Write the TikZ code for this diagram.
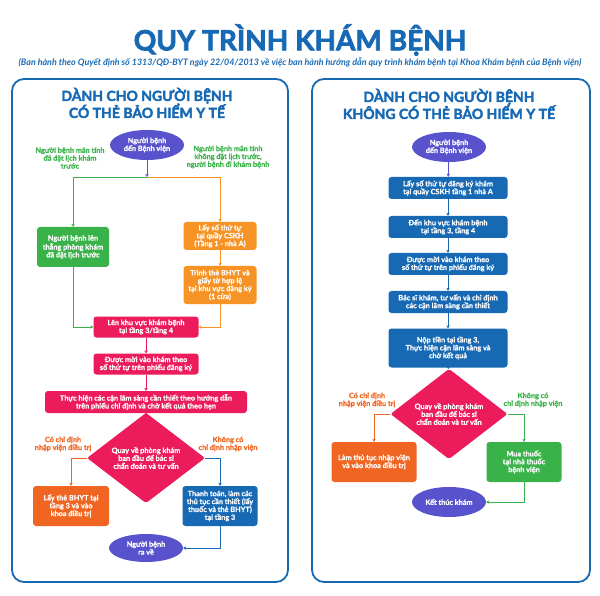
\documentclass[tikz,border=0pt]{standalone}
\usepackage{fontspec}
\setmainfont{Lato}[BoldFeatures={FakeBold=0.8}]
\newfontfamily\qheavy{Lato}[BoldFeatures={FakeBold=2.5}]
\usetikzlibrary{shapes.geometric,arrows.meta}
\definecolor{qblue}{RGB}{23,105,180}
\definecolor{qpurple}{RGB}{88,82,204}
\definecolor{qpink}{RGB}{236,27,91}
\definecolor{qgreen}{RGB}{58,178,74}
\definecolor{qorange}{RGB}{247,146,36}
\definecolor{qred}{RGB}{241,101,34}
\newcommand\qsmall{\fontsize{7.3}{7.9}\selectfont\bfseries}
\begin{document}
\begin{tikzpicture}[x=1pt, y=-1pt,
  box/.style = {rectangle, rounded corners=3pt, text=white, font=\qsmall, align=center, inner sep=1pt},
  oval/.style = {ellipse, fill=qpurple, text=white, font=\qsmall, align=center, inner sep=0pt, minimum width=74pt, minimum height=30pt},
  rhomb/.style = {diamond, fill=qpink, text=white, font=\qsmall, align=center, inner sep=0pt, minimum width=118pt, minimum height=61pt, rounded corners=2pt},
  note/.style = {font=\qsmall, align=center},
  arr/.style = {-{Stealth[length=3pt,width=3.5pt]}, line width=0.8pt},
  panel/.style = {draw=qblue, line width=1.8pt, rounded corners=12pt},
  head/.style = {text=qblue, font=\qheavy\fontsize{14}{17}\selectfont\bfseries, align=center}]
\useasboundingbox (0,0) rectangle (600,596);
\node[text=qblue, font=\qheavy\fontsize{28}{32}\selectfont\bfseries] (title) at (300,40) {QUY TRÌNH KHÁM BỆNH};
\node[text=qblue, font=\fontsize{8.9}{10}\selectfont\bfseries\itshape] (subtitle) at (300,62) {(Ban hành theo Quyết định số 1313/QĐ-BYT ngày 22/04/2013 về việc ban hành hướng dẫn quy trình khám bệnh tại Khoa Khám bệnh của Bệnh viện)};
\draw[panel] (12,79) rectangle (288,582);
\draw[panel] (312,79) rectangle (590,582);
\node[head] (lhead) at (147,103) {DÀNH CHO NGƯỜI BỆNH\\CÓ THẺ BẢO HIỂM Y TẾ};
\node[head] (rhead) at (449,104) {DÀNH CHO NGƯỜI BỆNH\\KHÔNG CÓ THẺ BẢO HIỂM Y TẾ};
\node[oval] (lstart) at (147,145) {Người bệnh\\đến Bệnh viện};
\coordinate (lsplit) at (147,177);
\node[note, text=qgreen] (lnote1) at (70,158) {Người bệnh mãn tính\\đã đặt lịch khám\\trước};
\node[note, text=qgreen] (lnote2) at (228,157) {Người bệnh mãn tính\\không đặt lịch trước,\\người bệnh đi khám bệnh};
\node[box, fill=qgreen, minimum width=72pt, minimum height=40pt] (lgreen) at (73,247) {Người bệnh lên\\thẳng phòng khám\\đã đặt lịch trước};
\node[box, fill=qorange, minimum width=73pt, minimum height=28pt] (lcskh) at (220,236) {Lấy số thứ tự\\tại quầy CSKH\\(Tầng 1 - nhà A)};
\node[box, fill=qorange, minimum width=73pt, minimum height=38pt] (lthe) at (220,285) {Trình thẻ BHYT và\\giấy tờ hợp lệ\\tại khu vực đăng ký\\(1 cửa)};
\node[box, fill=qpink, minimum width=105pt, minimum height=21pt] (lkhu) at (146,327) {Lên khu vực khám bệnh\\tại tầng 3/tầng 4};
\node[box, fill=qpink, minimum width=105pt, minimum height=21pt] (lmoi) at (146,364) {Được mời vào khám theo\\số thứ tự trên phiếu đăng ký};
\node[box, fill=qpink, minimum width=202pt, minimum height=22pt] (lcls) at (146,402) {Thực hiện các cận lâm sàng cần thiết theo hướng dẫn\\trên phiếu chỉ định và chờ kết quả theo hẹn};
\node[rhomb] (ldia) at (146,458) {Quay về phòng khám\\ban đầu để bác sĩ\\chẩn đoán và tư vấn};
\node[note, text=qred] (lnote3) at (63,444) {Có chỉ định\\nhập viện điều trị};
\node[note, text=qred] (lnote4) at (228,444) {Không có\\chỉ định nhập viện};
\node[box, fill=qred, minimum width=76pt, minimum height=40pt] (lbhyt) at (71,506) {Lấy thẻ BHYT tại\\tầng 3 và vào\\khoa điều trị};
\node[box, fill=qblue, minimum width=75pt, minimum height=40pt] (lpay) at (220,506) {Thanh toán, làm các\\thủ tục cần thiết (lấy\\thuốc và thẻ BHYT)\\tại tầng 3};
\node[oval, minimum height=28pt] (lend) at (146,548) {Người bệnh\\ra về};
\draw[arr, qpurple] (lstart) -- (lsplit);
\draw[arr, qgreen] (lsplit) -| (lgreen.north);
\draw[arr, qorange] (lsplit) -| (lcskh.north);
\draw[arr, qorange] (lcskh) -- (lthe);
\draw[arr, qgreen] (lgreen.south) |- (lkhu.west);
\draw[arr, qorange] (lthe.south) |- (lkhu.east);
\foreach \a/\b in {lkhu/lmoi, lmoi/lcls, lcls/ldia}
  \draw[arr, qpink] (\a) -- (\b);
\draw[arr, qred] (ldia.west) -| (lbhyt.north);
\draw[arr, qblue] (ldia.east) -| (lpay.north);
\draw[arr, qblue] (lpay.south) |- (lend.east);
\node[oval] (rstart) at (449,147) {Người bệnh\\đến Bệnh viện};
\node[box, fill=qblue, minimum width=119pt, minimum height=22pt] (r1) at (448,188) {Lấy số thứ tự đăng ký khám\\tại quầy CSKH tầng 1 nhà A};
\node[box, fill=qblue, minimum width=119pt, minimum height=22pt] (r2) at (448,227) {Đến khu vực khám bệnh\\tại tầng 3, tầng 4};
\node[box, fill=qblue, minimum width=119pt, minimum height=22pt] (r3) at (448,264) {Được mời vào khám theo\\số thứ tự trên phiếu đăng ký};
\node[box, fill=qblue, minimum width=119pt, minimum height=22pt] (r4) at (448,302) {Bác sĩ khám, tư vấn và chỉ định\\các cận lâm sàng cần thiết};
\node[box, fill=qblue, minimum width=119pt, minimum height=39pt] (r5) at (448,348) {Nộp tiền tại tầng 3,\\Thực hiện cận lâm sàng và\\chờ kết quả};
\node[rhomb, minimum width=117pt, minimum height=62pt] (rdia) at (449,414) {Quay về phòng khám\\ban đầu để bác sĩ\\chẩn đoán và tư vấn};
\node[note, text=qred] (rnote1) at (367,400) {Có chỉ định\\nhập viện điều trị};
\node[note, text=qgreen] (rnote2) at (533,400) {Không có\\chỉ định nhập viện};
\node[box, fill=qred, minimum width=85pt, minimum height=40pt] (radmit) at (374,462) {Làm thủ tục nhập viện\\và vào khoa điều trị};
\node[box, fill=qgreen, minimum width=75pt, minimum height=40pt] (rdrug) at (524,462) {Mua thuốc\\tại nhà thuốc\\bệnh viện};
\node[oval] (rend) at (449,502) {Kết thúc khám};
\draw[arr, qpurple] (rstart) -- (r1);
\foreach \a/\b in {r1/r2, r2/r3, r3/r4, r4/r5, r5/rdia}
  \draw[arr, qblue] (\a) -- (\b);
\draw[arr, qred] (rdia.west) -| (radmit.north);
\draw[arr, qgreen] (rdia.east) -| (rdrug.north);
\draw[arr, qgreen] (rdrug.south) |- (rend.east);
\end{tikzpicture}
\end{document}
